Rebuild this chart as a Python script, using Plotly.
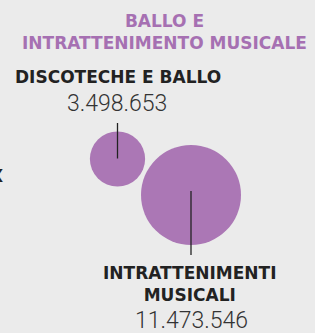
import math
import plotly.graph_objects as go

# ---- data ----
title_lines = ["BALLO E", "INTRATTENIMENTO MUSICALE"]
categories = ["DISCOTECHE E BALLO", "INTRATTENIMENTI<br>MUSICALI"]
values = [3498653, 11473546]
value_labels = ["3.498.653", "11.473.546"]

# ---- layout (pixel space) ----
W, H = 315, 333
BG = "#ebebeb"
PURPLE = "#ab77b5"
TITLE_PURPLE = "#a670b2"
DARK = "#222222"
HEAD_FONT = "DejaVu Sans"
NUM_FONT = "Roboto"

centers = [(117.5, 159), (191, 195)]          # bubble centres
max_r = 50                                      # radius of biggest bubble (px)
k = max_r / math.sqrt(max(values))
sizes = [2 * k * math.sqrt(v) for v in values]  # diameters, area-proportional

fig = go.Figure()

# bubbles
fig.add_trace(go.Scatter(
    x=[c[0] for c in centers], y=[c[1] for c in centers],
    mode="markers",
    marker=dict(size=sizes, color=PURPLE, line=dict(width=0), opacity=1),
    hoverinfo="skip", showlegend=False,
))

# leader lines
leaders = [(123, centers[0][1] - 0.5), (centers[1][1] - 4, 255)]
for (cx, _), (y0, y1) in zip(centers, leaders):
    fig.add_trace(go.Scatter(
        x=[cx, cx], y=[y0, y1], mode="lines",
        line=dict(color=DARK, width=1.3), hoverinfo="skip", showlegend=False,
    ))

ann = []
# title
ann.append(dict(x=164, y=32, text="<b>" + "<br>".join(title_lines) + "</b>",
                font=dict(family=HEAD_FONT, size=17, color=TITLE_PURPLE),
                showarrow=False, xanchor="center", yanchor="middle", align="center"))
# small bubble labels
ann.append(dict(x=118, y=77, text="<b>" + categories[0] + "</b>",
                font=dict(family=HEAD_FONT, size=17, color=DARK),
                showarrow=False, xanchor="center", yanchor="middle"))
ann.append(dict(x=117, y=103, text=value_labels[0],
                font=dict(family=NUM_FONT, size=23, color="#333333", weight=300),
                showarrow=False, xanchor="center", yanchor="middle"))
# big bubble labels
ann.append(dict(x=190, y=284, text="<b>" + categories[1] + "</b>",
                font=dict(family=HEAD_FONT, size=17, color=DARK),
                showarrow=False, xanchor="center", yanchor="middle", align="center"))
ann.append(dict(x=191, y=320, text=value_labels[1],
                font=dict(family=NUM_FONT, size=23, color="#333333", weight=300),
                showarrow=False, xanchor="center", yanchor="middle"))
# cut-off text from neighbouring panel
ann.append(dict(x=5, y=176, text="<b>X</b>",
                font=dict(family=HEAD_FONT, size=17, color=DARK),
                showarrow=False, xanchor="right", yanchor="middle"))

fig.update_layout(
    width=W, height=H,
    margin=dict(l=0, r=0, t=0, b=0),
    paper_bgcolor=BG, plot_bgcolor=BG,
    xaxis=dict(range=[0, W], visible=False, fixedrange=True),
    yaxis=dict(range=[H, 0], visible=False, fixedrange=True),
    annotations=ann,
)

fig.write_html(
    "out.html",
    config={"displayModeBar": False, "staticPlot": True},
    post_script="document.body.style.margin='0';document.body.style.overflow='hidden';",
)
